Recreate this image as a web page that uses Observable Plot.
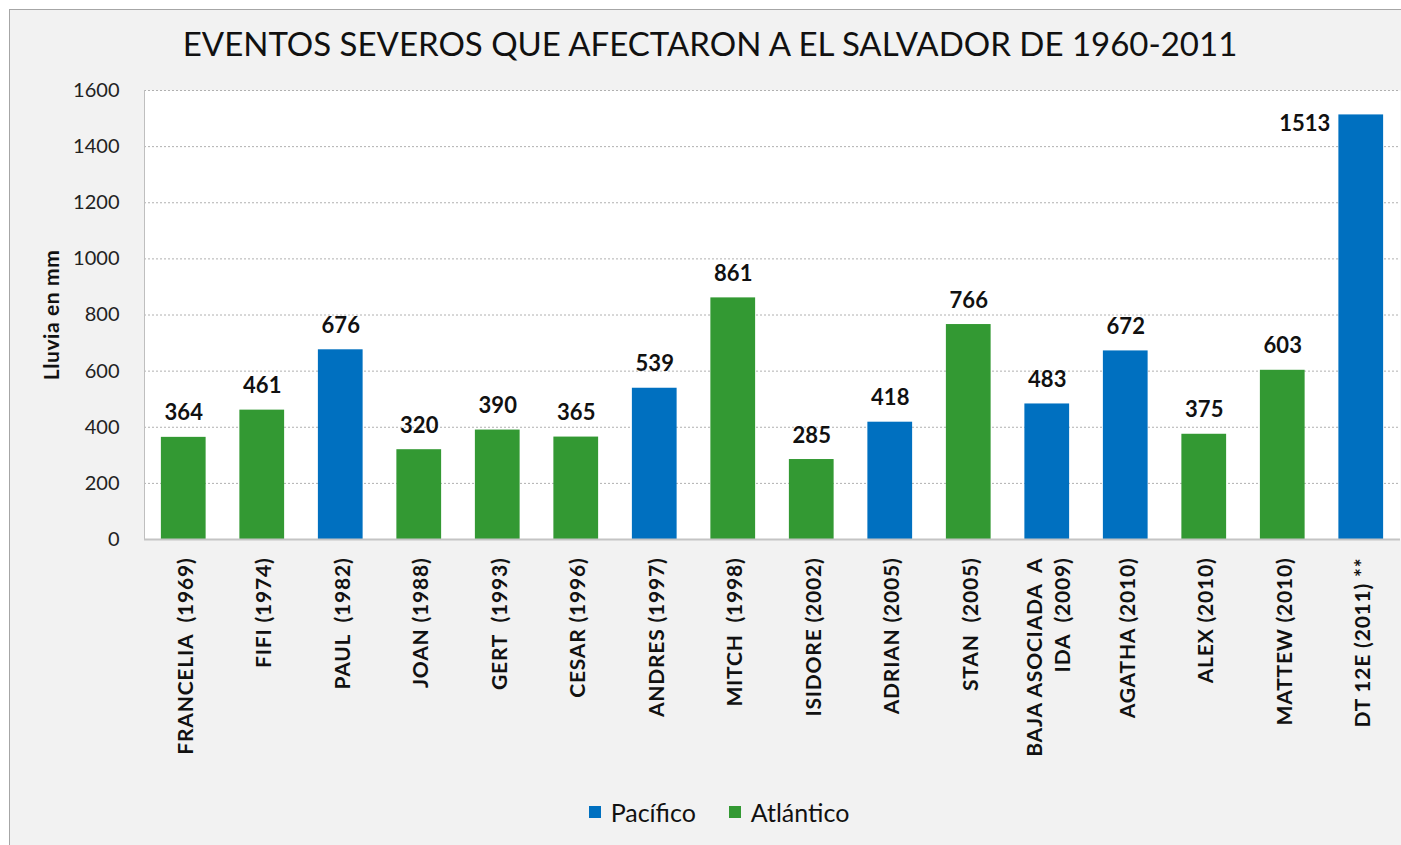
<!DOCTYPE html>
<html><head><meta charset="utf-8">
<script src="https://cdn.jsdelivr.net/npm/d3@7"></script>
<script src="https://cdn.jsdelivr.net/npm/@observablehq/plot@0.6"></script>
<style>
body{margin:0;background:#fff;font-family:Lato,sans-serif;}
#wrap{position:relative;width:1401px;height:845px;overflow:hidden;}
#panel{position:absolute;left:9px;top:9px;width:1420px;height:880px;background:#F2F2F2;border:1px solid #A6A6A6;}
#chart{position:absolute;left:0;top:0;}
#chart svg text{white-space:pre;}
#chart svg g[aria-label="x-axis tick label"] text{letter-spacing:0.8px;}
#chart svg g.ylab text{letter-spacing:0.6px;}
#title{position:absolute;left:0;top:23px;width:1420px;text-align:center;font-size:33px;color:#111;white-space:nowrap;}
#legend{position:absolute;left:0;top:797px;width:1438px;display:flex;justify-content:center;gap:33px;font-size:25px;color:#111;}
#legend span.item{display:flex;align-items:center;gap:10px;}
#legend i{display:inline-block;width:12px;height:12px;}
</style>
</head><body>
<div id="wrap">
  <div id="panel"></div>
  <div id="chart"></div>
  <div id="title"></div>
  <div id="legend"></div>
</div>
<script>
const titulo = "EVENTOS SEVEROS QUE AFECTARON A EL SALVADOR DE 1960-2011";
const ejeY = "Lluvia en mm";
const eventos = ["FRANCELIA  (1969)", "FIFI (1974)", "PAUL  (1982)", "JOAN (1988)", "GERT  (1993)", "CESAR (1996)", "ANDRES (1997)", "MITCH  (1998)", "ISIDORE (2002)", "ADRIAN (2005)", "STAN  (2005)", "BAJA ASOCIADA  A\nIDA  (2009)", "AGATHA (2010)", "ALEX (2010)", "MATTEW (2010)", "DT 12E (2011) **"];
const lluvia = [364, 461, 676, 320, 390, 365, 539, 861, 285, 418, 766, 483, 672, 375, 603, 1513];
const oceano = ["Atlántico", "Atlántico", "Pacífico", "Atlántico", "Atlántico", "Atlántico", "Pacífico", "Atlántico", "Atlántico", "Pacífico", "Atlántico", "Pacífico", "Pacífico", "Atlántico", "Atlántico", "Pacífico"];
const series = ["Pacífico", "Atlántico"];
const colores = ["#0070C0", "#339933"];
const ticksY = [0, 200, 400, 600, 800, 1000, 1200, 1400, 1600];

const data = eventos.map((e, i) => ({evento: e, lluvia: lluvia[i], oceano: oceano[i]}));
const umbral = 1400;

const plot = Plot.plot({
  width: 1401,
  height: 845,
  marginTop: 90,
  marginBottom: 306,
  marginLeft: 144,
  marginRight: 1,
  style: {background: "transparent", fontFamily: "Lato, sans-serif", color: "#111", overflow: "visible"},
  x: {domain: eventos, paddingInner: 0.43, paddingOuter: 0.215, round: false},
  y: {domain: [0, 1600]},
  color: {domain: series, range: colores},
  marks: [
    Plot.frame({fill: "white", stroke: null}),
    Plot.gridY(ticksY, {stroke: "#B0B0B0", strokeOpacity: 1, strokeDasharray: "2,2"}),
    Plot.frame({anchor: "left", stroke: "#BFBFBF"}),
    Plot.barY(data, {x: "evento", y: "lluvia", fill: "oceano"}),
    Plot.ruleY([0], {stroke: "#C4C4C4", strokeWidth: 2}),
    Plot.axisY({ticks: ticksY, tickFormat: d => String(d), tickSize: 0, tickPadding: 25, fontSize: 20, label: null, fill: "#222"}),
    Plot.axisX({tickRotate: -90, tickSize: 0, tickPadding: 18, fontSize: 21, lineHeight: 1.35, fontWeight: "bold", label: null, fill: "#111"}),
    Plot.text(data.filter(d => d.lluvia < umbral), {x: "evento", y: "lluvia", text: d => String(d.lluvia), dy: -24, fontSize: 22, fontWeight: "bold", fill: "#111"}),
    Plot.text(data.filter(d => d.lluvia >= umbral), {x: "evento", y: "lluvia", text: d => String(d.lluvia), dy: 9, dx: -31, textAnchor: "end", fontSize: 22, fontWeight: "bold", fill: "#111"}),
    Plot.text([ejeY], {frameAnchor: "left", textAnchor: "middle", rotate: -90, dx: -92, fontSize: 21, fontWeight: "bold", fill: "#111", className: "ylab"})
  ]
});
document.getElementById("chart").appendChild(plot);
document.getElementById("title").textContent = titulo;
const leg = document.getElementById("legend");
series.forEach((s, i) => {
  const it = document.createElement("span");
  it.className = "item";
  const sw = document.createElement("i");
  sw.style.background = colores[i];
  it.appendChild(sw);
  it.appendChild(document.createTextNode(s));
  leg.appendChild(it);
});
</script>
</body></html>
